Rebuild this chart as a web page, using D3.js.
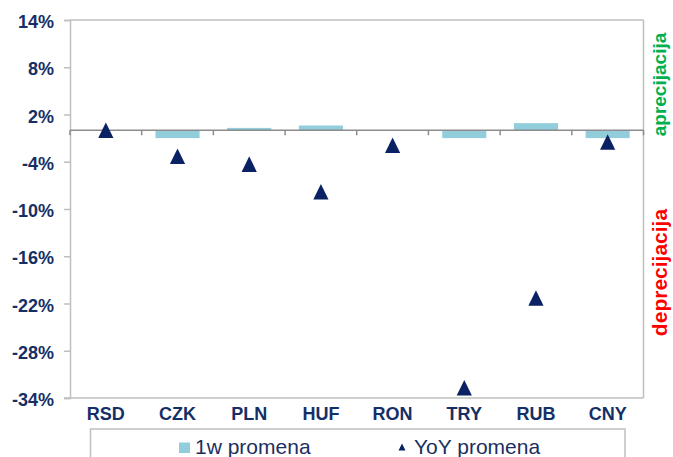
<!DOCTYPE html>
<html>
<head>
<meta charset="utf-8">
<script src="https://cdn.jsdelivr.net/npm/d3@7"></script>
<style>
  html, body { margin: 0; padding: 0; background: #fff; }
  svg { display: block; font-family: "Liberation Sans", Arial, sans-serif; }
</style>
</head>
<body>
<svg id="chart" width="673" height="457"></svg>
<script>
const categories = ["RSD", "CZK", "PLN", "HUF", "RON", "TRY", "RUB", "CNY"];
const weekly = [0.0, -1.0, 0.3, 0.6, 0.0, -1.0, 0.9, -1.0];      // 1w promena (%)
const yoy = [0.0, -3.3, -4.3, -7.8, -1.9, -32.7, -21.3, -1.5];     // YoY promena (%)
const yTicks = [14, 8, 2, -4, -10, -16, -22, -28, -34];
const seriesNames = ["1w promena", "YoY promena"];

(function () {
const svg = d3.select("#chart");
const pLeft = 70, pRight = 643.5, pTop = 20, pBottom = 398;
const navy = "#152f66";
const gridGray = "#bfbfbf";

const x = d3.scaleBand().domain(categories).range([pLeft, pRight]).padding(0);
const y = d3.scaleLinear().domain([-34, 14]).range([pBottom, pTop]);

// plot border (top, right, bottom)
svg.append("line").attr("x1", pLeft).attr("x2", pRight).attr("y1", pTop).attr("y2", pTop)
  .attr("stroke", gridGray).attr("stroke-width", 1.5);
svg.append("line").attr("x1", pRight).attr("x2", pRight).attr("y1", pTop).attr("y2", pBottom)
  .attr("stroke", gridGray).attr("stroke-width", 1.5);
svg.append("line").attr("x1", pLeft - 6).attr("x2", pRight).attr("y1", pBottom).attr("y2", pBottom)
  .attr("stroke", gridGray).attr("stroke-width", 1.5);

// y axis
const yAxis = svg.append("g").attr("transform", `translate(${pLeft},0)`)
  .call(d3.axisLeft(y).tickValues(yTicks).tickFormat(d => d + "%").tickSize(6).tickPadding(10));
yAxis.select(".domain").attr("stroke", gridGray).attr("stroke-width", 1.5);
yAxis.selectAll(".tick line").attr("stroke", gridGray).attr("stroke-width", 1.5);
yAxis.selectAll(".tick text")
  .attr("fill", navy).style("font-size", "18px").style("font-weight", "bold")
  .style("font-family", '"Liberation Sans", Arial, sans-serif').attr("dy", "0.42em");

// bars
const barW = x.bandwidth() * 0.615;
svg.append("g").selectAll("rect").data(categories).join("rect")
  .attr("x", (d) => x(d) + (x.bandwidth() - barW) / 2)
  .attr("width", barW)
  .attr("y", (d, i) => y(Math.max(0, weekly[i])))
  .attr("height", (d, i) => Math.abs(y(weekly[i]) - y(0)))
  .attr("fill", "#92cddc");

// zero line with category tick marks
svg.append("line").attr("x1", pLeft).attr("x2", pRight).attr("y1", y(0)).attr("y2", y(0))
  .attr("stroke", "#8c8c8c").attr("stroke-width", 1.5);
const boundaries = categories.map(c => x(c)).concat([pRight]);
svg.append("g").selectAll("line").data(boundaries).join("line")
  .attr("x1", d => d).attr("x2", d => d)
  .attr("y1", y(0)).attr("y2", y(0) + 5)
  .attr("stroke", "#8c8c8c").attr("stroke-width", 1.5);

// x category labels
svg.append("g").selectAll("text").data(categories).join("text")
  .attr("x", d => x(d) + x.bandwidth() / 2)
  .attr("y", 420)
  .attr("text-anchor", "middle")
  .attr("fill", navy)
  .style("font-size", "18px").style("font-weight", "bold")
  .text(d => d);

// triangles (YoY)
const tri = "M0,-7.8L7.6,7.8L-7.6,7.8Z";
svg.append("g").selectAll("path").data(categories).join("path")
  .attr("d", tri)
  .attr("transform", (d, i) => `translate(${x(d) + x.bandwidth() / 2},${y(yoy[i])})`)
  .attr("fill", "#0a2263");

// side labels
svg.append("text")
  .attr("transform", `translate(666,${84.5}) rotate(-90)`)
  .attr("text-anchor", "middle")
  .attr("fill", "#00b050")
  .style("font-size", "19px").style("font-weight", "bold")
  .text("aprecijacija");
svg.append("text")
  .attr("transform", `translate(667,${272.5}) rotate(-90)`)
  .attr("text-anchor", "middle")
  .attr("fill", "#ff0000")
  .style("font-size", "21px").style("font-weight", "bold")
  .text("deprecijacija");

// legend
const lg = svg.append("g");
lg.append("rect").attr("x", 90.5).attr("y", 429).attr("width", 534.5).attr("height", 40)
  .attr("fill", "none").attr("stroke", gridGray).attr("stroke-width", 1.5);
lg.append("rect").attr("x", 179).attr("y", 442.5).attr("width", 11).attr("height", 10.5)
  .attr("fill", "#92cddc");
lg.append("text").attr("x", 195).attr("y", 453.5).attr("fill", "#1c2f5e")
  .style("font-size", "21px").text(seriesNames[0]);
lg.append("path").attr("d", "M0,-3.5L3.5,3.5L-3.5,3.5Z")
  .attr("transform", "translate(402,447)").attr("fill", "#0a2263");
lg.append("text").attr("x", 414).attr("y", 453.5).attr("fill", "#1c2f5e")
  .style("font-size", "21px").text(seriesNames[1]);
})();
</script>
</body>
</html>
